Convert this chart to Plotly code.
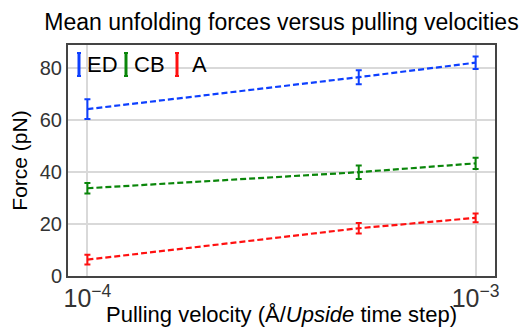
import plotly.graph_objects as go

velocities = [1e-4, 5e-4, 1e-3]
series_names = ["ED", "CB", "A"]
ed_force = [64.3, 76.6, 82.2]
ed_err = [3.8, 2.7, 2.4]
cb_force = [33.8, 40.0, 43.4]
cb_err = [2.0, 2.6, 2.2]
a_force = [6.3, 18.4, 22.4]
a_err = [1.9, 2.0, 1.7]
colors = ["#0d3fff", "#0a860a", "#ff1010"]

forces = [ed_force, cb_force, a_force]
errs = [ed_err, cb_err, a_err]

FONT = "Liberation Sans, Arial, sans-serif"
L, R, T, B = 68, 25, 45, 51
W, H = 520, 327
pw, ph = W - L - R, H - T - B

fig = go.Figure()
for name, f, e, c in zip(series_names, forces, errs, colors):
    fig.add_trace(go.Scatter(
        x=velocities, y=f, name=name, mode="lines",
        line=dict(color=c, width=2.2, dash="6px,3px"),
        error_y=dict(type="data", array=e, visible=True, color=c, thickness=2, width=3),
        showlegend=False,
    ))

# manual legend
def px2x(px):
    return (px - L) / pw

def py2y(py):
    return (H - B - py) / ph

leg_sym_x = [79, 126, 177]
leg_txt_x = [85, 132, 190]
for sx, tx, name, c in zip(leg_sym_x, leg_txt_x, series_names, colors):
    fig.add_shape(type="line", xref="paper", yref="paper",
                  x0=px2x(sx), x1=px2x(sx), y0=py2y(53), y1=py2y(76),
                  line=dict(color=c, width=3))
    for yy in (53, 76):
        fig.add_shape(type="line", xref="paper", yref="paper",
                      x0=px2x(sx - 2), x1=px2x(sx + 2), y0=py2y(yy), y1=py2y(yy),
                      line=dict(color=c, width=2))
    fig.add_annotation(text=name, xref="paper", yref="paper", x=px2x(tx), y=py2y(65),
                       xanchor="left", yanchor="middle", showarrow=False,
                       font=dict(family=FONT, size=22, color="black"))

fig.update_layout(
    width=W, height=H,
    margin=dict(l=L, r=R, t=T, b=B, autoexpand=False),
    paper_bgcolor="white", plot_bgcolor="white",
    font=dict(family=FONT, color="#222"),
    title=dict(text="Mean unfolding forces versus pulling velocities",
               x=0.5, xref="paper", xanchor="center",
               y=1 - 22 / H, yref="container", yanchor="middle",
               font=dict(family=FONT, size=23, color="black")),
)
fig.update_xaxes(
    type="log", range=[-4.05, -2.95], dtick=1, exponentformat="power",
    showgrid=True, gridcolor="#d9d9d9", gridwidth=1.5,
    showline=True, linecolor="#444", linewidth=2, mirror=True,
    ticks="", tickfont=dict(family=FONT, size=20, color="#333"),
    automargin=False,
    title=dict(text="Pulling velocity (Å/<i>Upside</i> time step)",
               font=dict(family=FONT, size=22, color="black"), standoff=0),
)
fig.update_yaxes(
    range=[0, 89], tickvals=[0, 20, 40, 60, 80],
    showgrid=True, gridcolor="#d9d9d9", gridwidth=1.5, zeroline=False,
    showline=True, linecolor="#444", linewidth=2, mirror=True,
    ticks="", tickfont=dict(family=FONT, size=20, color="#333"),
    automargin=False,
    title=dict(text="Force (pN)", font=dict(family=FONT, size=21, color="black"), standoff=6),
)

fig.write_html("out.html")
